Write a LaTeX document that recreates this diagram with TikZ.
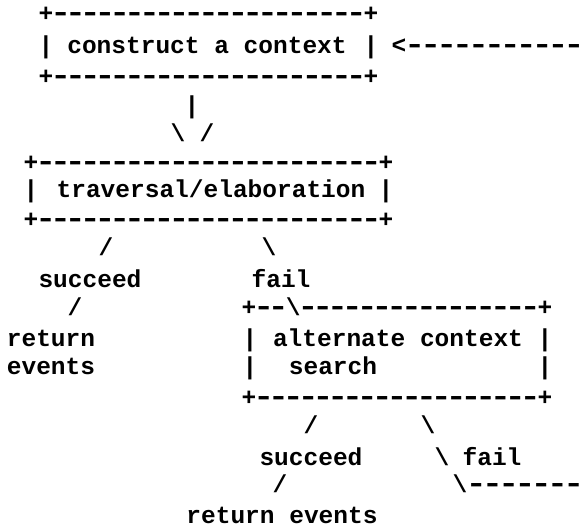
\documentclass[tikz,border=0pt]{standalone}
\usepackage{fontspec}
\newfontfamily\asciifont{Liberation Mono}
\newcommand{\hy}{\hbox to 14.7pt{\hss\scalebox{1.45}[1.15]{-}\hss}}
\newcommand{\borderrow}[1]{\hbox to #1pt{+\xleaders\hy\hfill+}}
\newcommand{\borderrowslash}[1]{\hbox to #1pt{+\hy\hy\textbackslash\xleaders\hy\hfill+}}
\newcommand{\arrowrun}[1]{\hbox to #1pt{<\xleaders\hy\hfill}}
\newcommand{\slashrun}[1]{\hbox to #1pt{\textbackslash\xleaders\hy\hfill}}
\tikzset{
  ascii/.style={inner sep=0pt, outer sep=0pt, anchor=base,
    font=\asciifont\bfseries\fontsize{24.5}{29}\selectfont},
  asciiw/.style={ascii, anchor=base west}
}
\begin{document}
\begin{tikzpicture}[x=1pt,y=1pt]
\fill[white] (0,0) rectangle (585,-527);
\useasboundingbox (0,0) rectangle (585,-527);
% box 1: construct a context
\node[ascii] (b1top) at (208.5,-22) {\borderrow{339.7}};
\node[ascii] (b1l) at (46,-53) {|};
\node[ascii] (b1txt) at (207,-53) {construct a context};
\node[ascii] (b1r) at (371,-53) {|};
\node[asciiw] (back) at (391.6,-53) {\arrowrun{191}};
\node[ascii] (b1bot) at (208.5,-84) {\borderrow{339.7}};
% arrow down
\node[ascii] (d1) at (192,-113) {|};
\node[ascii] (d2) at (178,-141) {\textbackslash};
\node[ascii] (d3) at (207,-141) {/};
% box 2: traversal/elaboration
\node[ascii] (b2top) at (208.5,-170) {\borderrow{369.7}};
\node[ascii] (b2l) at (31,-197) {|};
\node[ascii] (b2txt) at (211,-197) {traversal/elaboration};
\node[ascii] (b2r) at (386,-197) {|};
\node[ascii] (b2bot) at (208.5,-227) {\borderrow{369.7}};
% branches of box 2
\node[ascii] (s1a) at (106,-255) {/};
\node[ascii] (f1a) at (269,-255) {\textbackslash};
\node[ascii] (succ1) at (90,-287) {succeed};
\node[ascii] (fail1) at (281,-287) {fail};
\node[ascii] (s1b) at (75,-315) {/};
\node[ascii] (ret1) at (51,-346) {return};
\node[ascii] (ev1) at (51,-374) {events};
% box 3: alternate context search
\node[ascii] (b3top) at (397,-315) {\borderrowslash{310.7}};
\node[ascii] (b3l1) at (250,-346) {|};
\node[ascii] (b3txt1) at (398,-346) {alternate context};
\node[ascii] (b3r1) at (545,-346) {|};
\node[ascii] (b3l2) at (250,-374) {|};
\node[ascii] (b3txt2) at (333,-374) {search};
\node[ascii] (b3r2) at (545,-374) {|};
\node[ascii] (b3bot) at (397,-405) {\borderrow{310.7}};
% branches of box 3
\node[ascii] (s2a) at (311,-433) {/};
\node[ascii] (f2a) at (428,-433) {\textbackslash};
\node[ascii] (succ2) at (311,-465) {succeed};
\node[ascii] (f2b) at (442,-465) {\textbackslash};
\node[ascii] (fail2) at (492,-465) {fail};
\node[ascii] (s2b) at (280,-492) {/};
\node[asciiw] (f2c) at (452.6,-492) {\slashrun{130}};
\node[ascii] (ret2) at (282,-523) {return events};
\end{tikzpicture}
\end{document}
